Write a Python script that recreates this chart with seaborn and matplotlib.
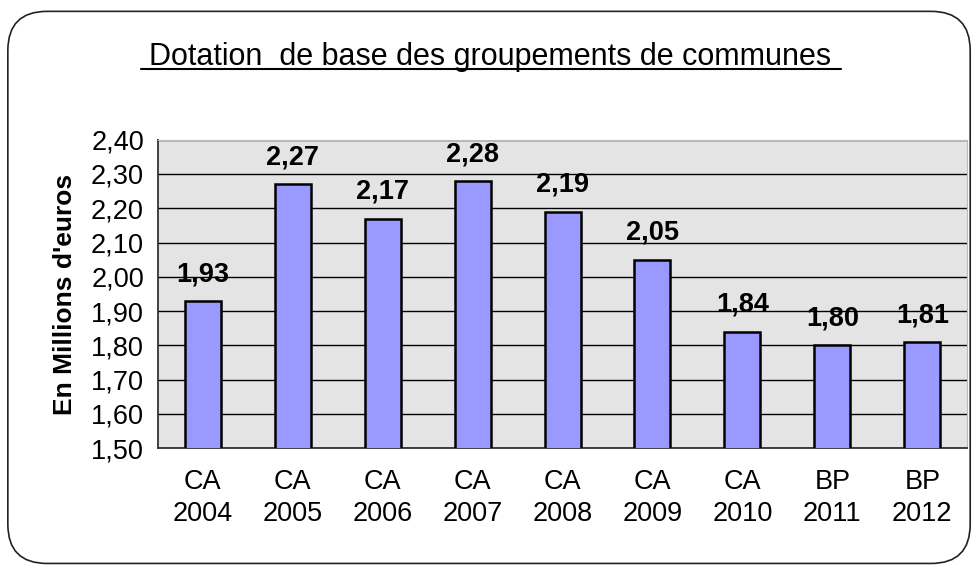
import matplotlib
matplotlib.use("Agg")
import matplotlib.pyplot as plt
from matplotlib.patches import FancyBboxPatch
import seaborn as sns
import pandas as pd

categories = ["CA\n2004", "CA\n2005", "CA\n2006", "CA\n2007", "CA\n2008",
              "CA\n2009", "CA\n2010", "BP\n2011", "BP\n2012"]
values = [1.93, 2.27, 2.17, 2.28, 2.19, 2.05, 1.84, 1.80, 1.81]
value_labels = ["1,93", "2,27", "2,17", "2,28", "2,19", "2,05", "1,84", "1,80", "1,81"]
y_ticks = [1.50, 1.60, 1.70, 1.80, 1.90, 2.00, 2.10, 2.20, 2.30, 2.40]

df = pd.DataFrame({"periode": categories, "montant": values})

sns.set_style("white")
plt.rcParams["font.family"] = ["Liberation Sans", "DejaVu Sans"]
plt.rcParams["text.color"] = "black"
plt.rcParams["xtick.color"] = "black"
plt.rcParams["ytick.color"] = "black"
plt.rcParams["axes.labelcolor"] = "black"

fig = plt.figure(figsize=(9.8, 5.68), dpi=100)

# rounded frame around the whole chart, kept behind the axes
frame = FancyBboxPatch((0.008, 0.008), 0.982, 0.972,
                       boxstyle="round,pad=0,rounding_size=0.04",
                       transform=fig.transFigure, facecolor="white",
                       edgecolor="#222222", linewidth=1.2,
                       mutation_aspect=980 / 568, zorder=-10)
fig.patches.append(frame)

ax = fig.add_axes([0.161, 0.211, 0.826, 0.543])
ax.set_zorder(2)
ax.set_facecolor("#e4e4e4")
sns.barplot(data=df, x="periode", y="montant", color="#9999ff", saturation=1,
            width=0.4, edgecolor="black", linewidth=1.8, ax=ax, zorder=3)

ax.set_ylim(1.5, 2.4)
ax.set_xlim(-0.5, len(categories) - 0.5)
ax.set_yticks(y_ticks)
ax.set_yticklabels([f"{t:.2f}".replace(".", ",") for t in y_ticks], fontsize=19.5)
ax.yaxis.grid(True, color="black", linewidth=1)
ax.set_axisbelow(True)

ax.set_xticks([i - 0.5 for i in range(len(categories) + 1)], minor=False)
ax.set_xticklabels([""] * (len(categories) + 1))
ax.set_xticks(range(len(categories)), minor=True)
ax.set_xticklabels(categories, minor=True, fontsize=19.5, linespacing=1.3)
ax.tick_params(axis="x", which="minor", length=0, pad=15)
ax.tick_params(axis="x", which="major", length=7, width=1.2, color="#333333", direction="out")
ax.tick_params(axis="y", length=7, width=1.2, color="#333333", direction="out", pad=3)
ax.set_xlabel("")
ax.set_ylabel("En Millions d'euros", fontsize=19, fontweight="bold", labelpad=10)

for s in ["top", "right"]:
    ax.spines[s].set_visible(True)
    ax.spines[s].set_color("#bbbbbb")
for s in ["left", "bottom"]:
    ax.spines[s].set_color("#333333")
    ax.spines[s].set_linewidth(1.3)

for i, (v, lab) in enumerate(zip(values, value_labels)):
    ax.text(i, v + 0.04, lab, ha="center", va="bottom", fontsize=19.5,
            fontweight="bold", zorder=4)

fig.text(0.5, 0.899, "Dotation  de base des groupements de communes",
         ha="center", va="center", fontsize=22, color="black")
title_line = plt.Line2D([0.144, 0.858], [0.878, 0.878], transform=fig.transFigure,
                        color="black", linewidth=1.5)
fig.lines.append(title_line)

fig.savefig("out.png", dpi=100)
